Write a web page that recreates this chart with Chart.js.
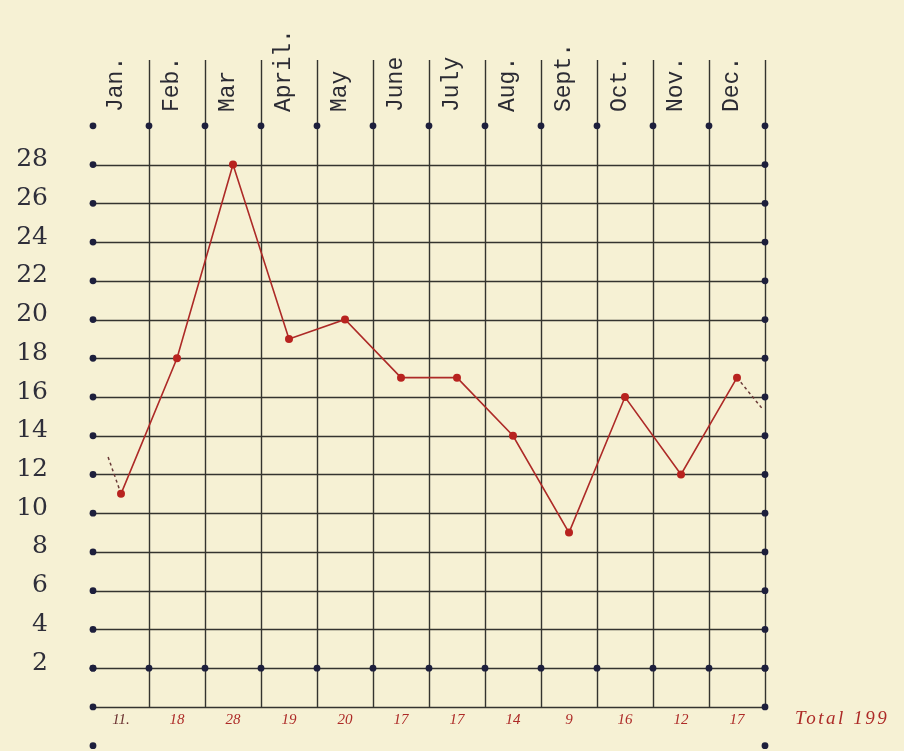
<!DOCTYPE html>
<html>
<head>
<meta charset="utf-8">
<script src="https://cdn.jsdelivr.net/npm/chart.js@4.4.1/dist/chart.umd.min.js"></script>
<style>
  html, body { margin: 0; padding: 0; background: #f6f1d4; }
  #wrap { width: 904px; height: 751px; }
</style>
</head>
<body>
<div id="wrap"><canvas id="graph" width="904" height="751"></canvas></div>
<script>
// months across the top, values written under each column
var months = ['Jan.', 'Feb.', 'Mar', 'April.', 'May', 'June', 'July', 'Aug.', 'Sept.', 'Oct.', 'Nov.', 'Dec.'];
var values = [11, 18, 28, 19, 20, 17, 17, 14, 9, 16, 12, 17];
var bottomLabels = ['11.', '18', '28', '19', '20', '17', '17', '14', '9', '16', '12', '17'];
var totalLabel = 'Total 199';

// ruled lines of the sheet (in data units)
var ruledRows = [0, 2, 4, 6, 8, 10, 12, 14, 16, 18, 20, 22, 24, 26, 28];
var yTickLabels = [2, 4, 6, 8, 10, 12, 14, 16, 18, 20, 22, 24, 26, 28];
var columnEdges = [0, 1, 2, 3, 4, 5, 6, 7, 8, 9, 10, 11, 12];
var topDotRow = 30;
var midDotRow = 2;
var lowDotRow = -2;

// dashed carry-over strokes at both ends
var carryIn = [{ x: 0.27, y: 12.9 }, { x: 0.5, y: 11 }];
var carryOut = [{ x: 11.5, y: 17 }, { x: 11.95, y: 15.4 }];

var ink = '#34342f';
var dotInk = '#1d1f3c';
var redInk = '#ad2a27';

// dots on the ruling
var dots = [];
ruledRows.forEach(function(v) {
    dots.push({ x: 0, y: v });
    dots.push({ x: 12, y: v });
});
columnEdges.forEach(function(c) {
    dots.push({ x: c, y: topDotRow });
    dots.push({ x: c, y: midDotRow });
});
dots.push({ x: 0, y: lowDotRow });
dots.push({ x: 12, y: lowDotRow });

var ruling = {
    id: 'ruling',
    beforeDatasetsDraw: function(chart) {
        var ctx = chart.ctx;
        var xb = chart.scales.xb;
        var y = chart.scales.y;
        ctx.save();
        ctx.strokeStyle = ink;
        ctx.lineWidth = 1.6;
        ruledRows.forEach(function(v) {
            var py = Math.round(y.getPixelForValue(v)) + 0.5;
            ctx.beginPath();
            ctx.moveTo(xb.getPixelForValue(0), py);
            ctx.lineTo(xb.getPixelForValue(12), py);
            ctx.stroke();
        });
        ctx.lineWidth = 1.4;
        columnEdges.slice(1).forEach(function(c) {
            var px = Math.round(xb.getPixelForValue(c)) + 0.5;
            ctx.beginPath();
            ctx.moveTo(px, y.getPixelForValue(y.max));
            ctx.lineTo(px, y.getPixelForValue(0));
            ctx.stroke();
        });
        ctx.restore();
    },
    afterDraw: function(chart) {
        var ctx = chart.ctx;
        var x = chart.scales.x;
        var y = chart.scales.y;
        ctx.save();
        // month names, typed sideways
        ctx.fillStyle = '#2b2b33';
        ctx.font = '23px "Liberation Mono", "DejaVu Sans Mono", monospace';
        ctx.textAlign = 'left';
        ctx.textBaseline = 'middle';
        months.forEach(function(m, i) {
            ctx.save();
            ctx.translate(x.getPixelForValue(i) - 5, 112);
            ctx.rotate(-Math.PI / 2);
            ctx.fillText(m, 0, 0);
            ctx.restore();
        });
        // scale figures on the left
        ctx.fillStyle = '#2f2f3a';
        ctx.font = '25px "DejaVu Serif", serif';
        ctx.textAlign = 'right';
        yTickLabels.forEach(function(v) {
            ctx.fillText(String(v), 48, y.getPixelForValue(v) - 5);
        });
        // figures written under each column
        ctx.font = 'italic 15px "Liberation Serif", serif';
        ctx.textAlign = 'center';
        bottomLabels.forEach(function(t, i) {
            ctx.fillStyle = i === 0 ? '#6a3030' : redInk;
            ctx.fillText(t, x.getPixelForValue(i), y.getPixelForValue(-0.7));
        });
        // total written at the right
        ctx.fillStyle = redInk;
        ctx.font = 'italic 19px "Liberation Serif", serif';
        ctx.textAlign = 'left';
        ctx.letterSpacing = '2.5px';
        ctx.fillText(totalLabel, chart.chartArea.right + 30, y.getPixelForValue(-0.6));
        ctx.restore();
    }
};

var config = {
    type: 'line',
    data: {
        labels: months,
        datasets: [{
            label: 'values',
            data: values,
            xAxisID: 'x',
            borderColor: redInk,
            backgroundColor: '#b8231f',
            borderWidth: 1.6,
            pointRadius: 4,
            pointBorderWidth: 0,
            tension: 0,
            clip: false
        }, {
            type: 'scatter',
            label: 'dots',
            data: dots,
            xAxisID: 'xb',
            backgroundColor: dotInk,
            pointRadius: 3.4,
            pointBorderWidth: 0,
            showLine: false,
            clip: false
        }, {
            type: 'scatter',
            label: 'in',
            data: carryIn,
            xAxisID: 'xb',
            showLine: true,
            borderColor: '#6a3a38',
            borderWidth: 1.5,
            borderDash: [3, 3],
            pointRadius: 0,
            clip: false
        }, {
            type: 'scatter',
            label: 'out',
            data: carryOut,
            xAxisID: 'xb',
            showLine: true,
            borderColor: '#6a3a38',
            borderWidth: 1.5,
            borderDash: [3, 3],
            pointRadius: 0,
            clip: false
        }]
    },
    options: {
        responsive: false,
        animation: false,
        layout: { padding: { left: 93, top: 60, right: 139, bottom: 0 } },
        plugins: { legend: { display: false }, tooltip: { enabled: false } },
        scales: {
            x: {
                type: 'category',
                offset: true,
                display: false
            },
            xb: {
                type: 'linear',
                min: 0,
                max: 12,
                display: false
            },
            y: {
                min: -2.07,
                max: 33.4,
                display: false
            }
        }
    },
    plugins: [ruling]
};

var ctx = document.getElementById('graph').getContext('2d');
window.myChart = new Chart(ctx, config);
</script>
</body>
</html>
